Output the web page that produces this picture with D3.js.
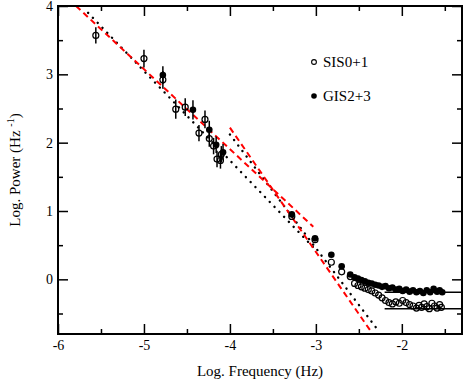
<!DOCTYPE html>
<html>
<head>
<meta charset="utf-8">
<script src="https://cdn.jsdelivr.net/npm/d3@7"></script>
<style>
    body { margin: 0; background: #fff; }
    svg text { font-family: "Liberation Serif", "DejaVu Serif", serif; fill: #000; }
</style>
</head>
<body>
<div id="chart"></div>
<script>
// Power density spectrum - log power vs log frequency
const serif = "'Liberation Serif', 'DejaVu Serif', serif";

// SIS0+1 low-frequency points (with error bars)
const sisLowX = [-5.56, -5.00, -4.78, -4.63, -4.52, -4.36, -4.29, -4.24, -4.19, -4.15, -4.11, -4.10];
const sisLowY = [3.57, 3.23, 2.92, 2.49, 2.52, 2.14, 2.34, 2.06, 1.95, 1.76, 1.74, 1.83];
const sisLowErr = [0.12, 0.13, 0.13, 0.14, 0.13, 0.12, 0.13, 0.12, 0.12, 0.12, 0.12, 0.12];

// GIS2+3 low-frequency points (with error bars)
const gisLowX = [-4.78, -4.43, -4.24, -4.16, -4.08];
const gisLowY = [2.99, 2.48, 2.19, 1.97, 1.86];
const gisLowErr = [0.13, 0.14, 0.13, 0.12, 0.12];

// SIS0+1 higher-frequency points
const sisHighX = [-3.28, -3.01, -2.82, -2.70, -2.60, -2.55, -2.51, -2.47, -2.43, -2.39, -2.35, -2.31, -2.27, -2.23,
    -2.19, -2.15, -2.11, -2.07, -2.03, -1.99, -1.95, -1.91, -1.87, -1.83, -1.80, -1.77, -1.74, -1.71, -1.68,
    -1.65, -1.62, -1.59, -1.56, -1.54];
const sisHighY = [0.92, 0.58, 0.25, 0.11, 0.04, -0.06, -0.09, -0.11, -0.13, -0.15, -0.17, -0.20, -0.23, -0.27,
    -0.31, -0.34, -0.36, -0.33, -0.35, -0.31, -0.34, -0.37, -0.39, -0.42, -0.38, -0.41, -0.36, -0.40, -0.43,
    -0.35, -0.39, -0.42, -0.37, -0.41];

// GIS2+3 higher-frequency points
const gisHighX = [-3.28, -3.01, -2.82, -2.70, -2.60, -2.55, -2.51, -2.47, -2.43, -2.39, -2.35, -2.31, -2.27, -2.23,
    -2.19, -2.15, -2.11, -2.07, -2.03, -1.99, -1.95, -1.91, -1.87, -1.83, -1.79, -1.75, -1.71, -1.67, -1.63,
    -1.59, -1.56, -1.53];
const gisHighY = [0.95, 0.60, 0.36, 0.19, 0.07, 0.03, 0.01, -0.01, -0.03, -0.05, -0.06, -0.08, -0.09, -0.11,
    -0.10, -0.13, -0.12, -0.15, -0.14, -0.17, -0.15, -0.18, -0.16, -0.19, -0.17, -0.20, -0.16, -0.19, -0.14,
    -0.18, -0.16, -0.19];

// Power-law fits (red dashed) and alternative fits (black dotted), as end points
const redFitLow = [[-5.79, 4.0], [-3.03, 0.77]];
const redFitHigh = [[-4.00, 2.22], [-2.35, -0.78]];
const dotFitLow = [[-5.65, 3.90], [-3.00, 0.43]];
const dotFitHigh = [[-4.00, 2.12], [-2.28, -0.74]];

// White-noise levels
const noiseStart = -2.20;
const gisNoise = -0.19;
const sisNoise = -0.43;

const xMajor = [-6, -5, -4, -3, -2];
const xMinor = [-5.5, -4.5, -3.5, -2.5, -1.5];
const yMajor = [0, 1, 2, 3, 4];
const yMinor = [-0.5, 0.5, 1.5, 2.5, 3.5];

const W = 463, H = 382;
const margin = { top: 6, right: 1, bottom: 48, left: 58 };
const iw = W - margin.left - margin.right;
const ih = H - margin.top - margin.bottom;

const x = d3.scaleLinear().domain([-6, -1.3]).range([0, iw]);
const y = d3.scaleLinear().domain([-0.8, 4]).range([ih, 0]);

const svg = d3.select("#chart")
    .append("svg")
    .attr("width", W)
    .attr("height", H)
    .attr("font-family", serif);

const g = svg.append("g")
    .attr("transform", `translate(${margin.left},${margin.top})`);

g.append("clipPath").attr("id", "clip")
    .append("rect").attr("width", iw).attr("height", ih);

// Axes: ticks point inward on all four sides
function addAxis(axis, transform, labels) {
    const a = g.append("g").attr("transform", transform).call(axis);
    a.attr("font-family", serif).attr("font-size", 14);
    a.select(".domain").remove();
    a.selectAll("line").attr("stroke", "#000").attr("stroke-width", 1.5);
    a.selectAll("text").attr("fill", "#000");
    if (!labels) a.selectAll("text").remove();
    return a;
}

addAxis(d3.axisBottom(x).tickValues(xMajor).tickSize(-10).tickPadding(6).tickFormat(d3.format("d")), `translate(0,${ih})`, true);
addAxis(d3.axisBottom(x).tickValues(xMinor).tickSize(-5), `translate(0,${ih})`, false);
addAxis(d3.axisTop(x).tickValues(xMajor).tickSize(-10), "translate(0,0)", false);
addAxis(d3.axisTop(x).tickValues(xMinor).tickSize(-5), "translate(0,0)", false);
addAxis(d3.axisLeft(y).tickValues(yMajor).tickSize(-10).tickPadding(5).tickFormat(d3.format("d")), "translate(0,0)", true);
addAxis(d3.axisLeft(y).tickValues(yMinor).tickSize(-5), "translate(0,0)", false);
addAxis(d3.axisRight(y).tickValues(yMajor).tickSize(-10), `translate(${iw},0)`, false);
addAxis(d3.axisRight(y).tickValues(yMinor).tickSize(-5), `translate(${iw},0)`, false);

// Hyphen-minus like the original
g.selectAll(".tick text").text(function() { return this.textContent.replace("−", "-"); });

const plot = g.append("g").attr("clip-path", "url(#clip)");

const line = d3.line().x(d => x(d[0])).y(d => y(d[1]));

// Model lines
[dotFitLow, dotFitHigh].forEach(seg => {
    plot.append("path")
        .attr("d", line(seg))
        .attr("fill", "none")
        .attr("stroke", "#000")
        .attr("stroke-width", 2.4)
        .attr("stroke-linecap", "round")
        .attr("stroke-dasharray", "0.1,6.8");
});
[redFitLow, redFitHigh].forEach(seg => {
    plot.append("path")
        .attr("d", line(seg))
        .attr("fill", "none")
        .attr("stroke", "#ff0000")
        .attr("stroke-width", 2)
        .attr("stroke-dasharray", "6,4");
});

// Noise levels
[gisNoise, sisNoise].forEach(v => {
    plot.append("line")
        .attr("x1", x(noiseStart))
        .attr("x2", iw)
        .attr("y1", y(v))
        .attr("y2", y(v))
        .attr("stroke", "#000")
        .attr("stroke-width", 1.5);
});

// Error bars
function errorBars(xs, ys, es) {
    plot.selectAll(null)
        .data(xs.map((d, i) => [d, ys[i], es[i]]))
        .enter()
        .append("line")
        .attr("x1", d => x(d[0]))
        .attr("x2", d => x(d[0]))
        .attr("y1", d => y(d[1] - d[2]))
        .attr("y2", d => y(d[1] + d[2]))
        .attr("stroke", "#000")
        .attr("stroke-width", 1.5);
}
errorBars(sisLowX, sisLowY, sisLowErr);
errorBars(gisLowX, gisLowY, gisLowErr);

// GIS2+3 filled circles
const gisPts = gisLowX.map((d, i) => [d, gisLowY[i]])
    .concat(gisHighX.map((d, i) => [d, gisHighY[i]]));
plot.selectAll(".gis")
    .data(gisPts)
    .enter()
    .append("circle")
    .attr("class", "gis")
    .attr("cx", d => x(d[0]))
    .attr("cy", d => y(d[1]))
    .attr("r", 3.3)
    .attr("fill", "#000");

// SIS0+1 open circles
const sisPts = sisLowX.map((d, i) => [d, sisLowY[i]])
    .concat(sisHighX.map((d, i) => [d, sisHighY[i]]));
plot.selectAll(".sis")
    .data(sisPts)
    .enter()
    .append("circle")
    .attr("class", "sis")
    .attr("cx", d => x(d[0]))
    .attr("cy", d => y(d[1]))
    .attr("r", 3)
    .attr("fill", "none")
    .attr("stroke", "#000")
    .attr("stroke-width", 1.2);

// Frame
g.append("rect")
    .attr("width", iw)
    .attr("height", ih)
    .attr("fill", "none")
    .attr("stroke", "#000")
    .attr("stroke-width", 2);

// Legend
const legend = svg.append("g");
legend.append("circle").attr("cx", 314).attr("cy", 62).attr("r", 2.4)
    .attr("fill", "#fff").attr("stroke", "#000").attr("stroke-width", 1.1);
legend.append("circle").attr("cx", 314).attr("cy", 96).attr("r", 2.8).attr("fill", "#000");
legend.append("text").attr("x", 323).attr("y", 62).attr("dy", "0.35em")
    .style("font-size", "15px").text("SIS0+1");
legend.append("text").attr("x", 323).attr("y", 96).attr("dy", "0.35em")
    .style("font-size", "15px").text("GIS2+3");

// Axis titles
svg.append("text")
    .attr("x", margin.left + iw / 2)
    .attr("y", 376)
    .attr("text-anchor", "middle")
    .style("font-size", "15px")
    .text("Log. Frequency (Hz)");

const yTitle = svg.append("text")
    .attr("transform", `translate(20,${margin.top + ih / 2}) rotate(-90)`)
    .attr("text-anchor", "middle")
    .style("font-size", "15px");
yTitle.append("tspan").text("Log. Power (Hz ");
yTitle.append("tspan").attr("dy", -6).style("font-size", "10px").text("-1");
yTitle.append("tspan").attr("dy", 6).text(")");
</script>
</body>
</html>
